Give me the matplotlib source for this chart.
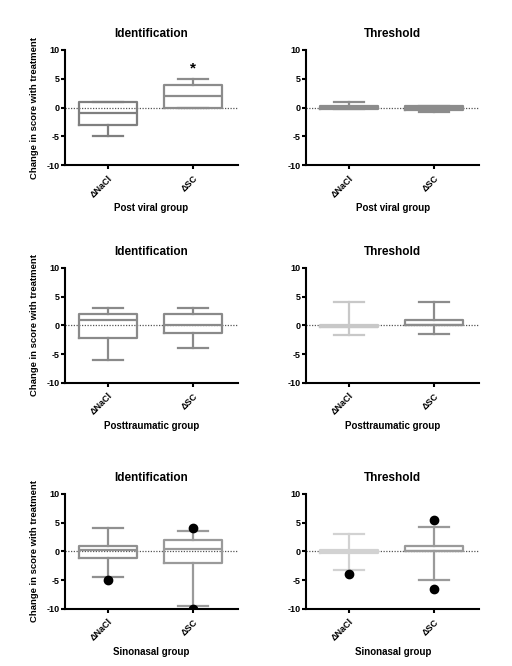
import matplotlib
matplotlib.use("Agg")
import matplotlib.pyplot as plt

plt.rcParams['font.family'] = ['Liberation Sans', 'DejaVu Sans']
plt.rcParams['font.weight'] = 'bold'
plt.rcParams['axes.unicode_minus'] = False

categories = ["\u0394NaCl", "\u0394SC"]
groups = ["Post viral group", "Posttraumatic group", "Sinonasal group"]
tests = ["Identification", "Threshold"]

# box stats per panel: [NaCl, SC] -> (whislo, q1, med, q3, whishi)
ident_viral = [(-5, -3, -1, 1, 1), (0, 0, 2, 4, 5)]
thresh_viral = [(-0.3, -0.3, 0, 0.2, 1), (-0.7, -0.5, 0, 0.2, 0.2)]
ident_trauma = [(-6, -2.2, 1, 2, 3), (-4, -1.3, 0, 2, 3)]
thresh_trauma = [(-1.7, -0.3, -0.3, 0, 4), (-1.5, 0, 0, 1, 4)]
ident_sino = [(-4.5, -1.2, 0.3, 1, 4), (-9.5, -2, 0.5, 2, 3.5)]
thresh_sino = [(-3.2, -0.2, 0, 0.2, 3), (-5, 0, 0, 1, 4.3)]

fliers_ident_sino = [[-5], [4, -10]]
fliers_thresh_sino = [[-4], [5.5, -6.5]]

panels = [
    (ident_viral, [[], []], ["#7f7f7f", "#8c8c8c"]),
    (thresh_viral, [[], []], ["#8c8c8c", "#8c8c8c"]),
    (ident_trauma, [[], []], ["#8a8a8a", "#8a8a8a"]),
    (thresh_trauma, [[], []], ["#c8c8c8", "#8c8c8c"]),
    (ident_sino, fliers_ident_sino, ["#909090", "#9a9a9a"]),
    (thresh_sino, fliers_thresh_sino, ["#d2d2d2", "#9a9a9a"]),
]

fig = plt.figure(figsize=(5.12, 6.66), dpi=100)
lefts = [0.127, 0.598]
bottoms = [0.752, 0.425, 0.0856]

for i, (stats, fliers, colors) in enumerate(panels):
    row, col = divmod(i, 2)
    ax = fig.add_axes([lefts[col], bottoms[row], 0.338, 0.173])
    ax.axhline(0, color="#555555", lw=0.9, ls=(0, (1, 1.2)), zorder=1)
    for j, (lo, q1, med, q3, hi) in enumerate(stats):
        st = [dict(whislo=lo, q1=q1, med=med, q3=q3, whishi=hi, fliers=fliers[j])]
        c = colors[j]
        ax.bxp(st, positions=[j + 1], widths=0.68, showfliers=True,
               boxprops=dict(color=c, lw=1.6),
               whiskerprops=dict(color=c, lw=1.6),
               capprops=dict(color=c, lw=1.6),
               medianprops=dict(color=c, lw=1.6),
               flierprops=dict(marker="o", markerfacecolor="black",
                               markeredgecolor="black", markersize=6),
               capwidths=0.36, manage_ticks=False)
    ax.set_xlim(0.494, 2.53)
    ax.set_ylim(-10, 10)
    ax.set_yticks([-10, -5, 0, 5, 10])
    ax.set_xticks([1, 2])
    ax.set_xticklabels(categories, rotation=45, ha="right", rotation_mode="anchor",
                       fontsize=6.5, fontweight="bold")
    ax.tick_params(axis="y", labelsize=6.5, width=1.5, length=3, pad=1)
    ax.tick_params(axis="x", width=1.5, length=3, pad=3)
    for lab in ax.get_yticklabels():
        lab.set_fontweight("bold")
    ax.spines["top"].set_visible(False)
    ax.spines["right"].set_visible(False)
    ax.spines["left"].set_linewidth(1.5)
    ax.spines["bottom"].set_linewidth(1.5)
    ax.set_title(tests[col], fontsize=8.5, fontweight="bold", pad=9)
    ax.set_xlabel(groups[row], fontsize=7, fontweight="bold", labelpad=3)
    if col == 0:
        ax.set_ylabel("Change in score with treatment", fontsize=6.8,
                      fontweight="bold", labelpad=5)
    if i == 0:
        ax.text(2, 6.8, "*", ha="center", va="center", fontsize=11, fontweight="bold")

fig.savefig("out.png", dpi=100)
